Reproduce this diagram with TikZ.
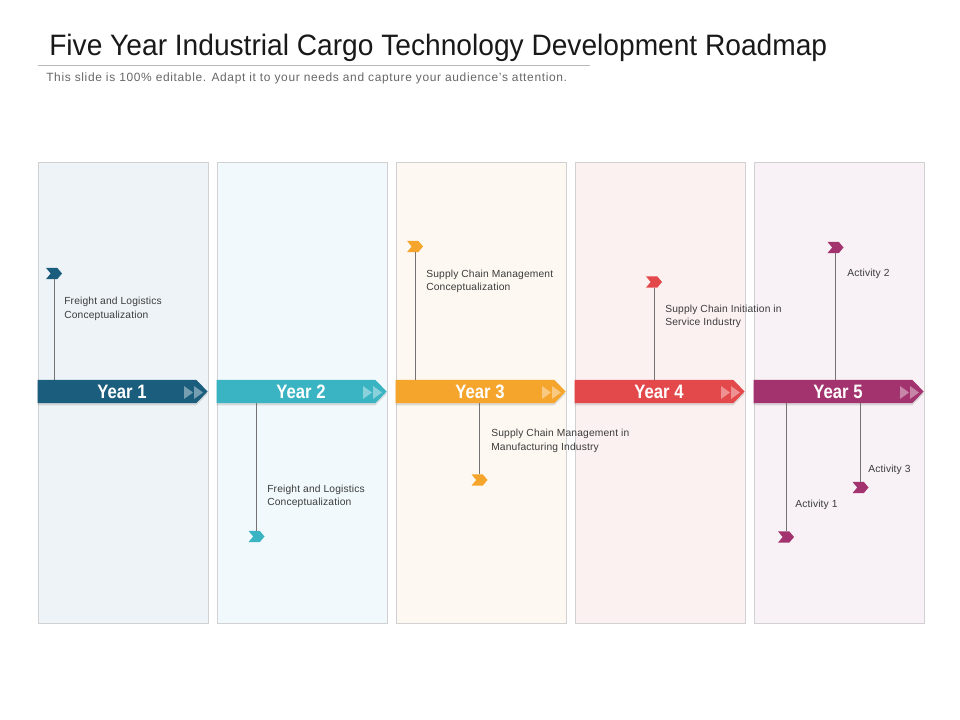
\documentclass[tikz,border=0pt]{standalone}
\usepackage{fontspec}
\setmainfont{Liberation Sans}
\usepackage{graphicx}
\usetikzlibrary{shapes.symbols,shadows}

\definecolor{cA}{HTML}{1B5D7D}
\definecolor{cB}{HTML}{3AB4C3}
\definecolor{cC}{HTML}{F5A52C}
\definecolor{cD}{HTML}{E3484A}
\definecolor{cE}{HTML}{A2336E}
\definecolor{bA}{HTML}{EEF3F7}
\definecolor{bB}{HTML}{F1F9FC}
\definecolor{bC}{HTML}{FDF8F1}
\definecolor{bD}{HTML}{FCF1F1}
\definecolor{bE}{HTML}{F8F1F6}
\definecolor{txt}{HTML}{3C3C3C}

\newcommand{\yrlabel}[1]{\hspace*{0.25cm}\scalebox{0.86}[1]{#1}}

\tikzset{
  panel/.style={draw=black!18, line width=0.5pt},
  banner/.style={signal, signal to=east, signal pointer angle=92, draw=none,
    minimum width=4.25cm, minimum height=0.575cm, inner sep=0pt, text=white,
    font=\fontsize{13.8}{16}\selectfont\bfseries,
    drop shadow={opacity=0.25, shadow xshift=0pt, shadow yshift=-1.6pt}},
  chev/.style={signal, signal from=west, signal to=east, signal pointer angle=100,
    draw=none, minimum width=0.4cm, minimum height=0.28cm, inner sep=0pt},
  stem/.style={draw=black!55, line width=0.6pt},
  note/.style={anchor=base west, align=left, inner sep=0pt, text=txt,
    font=\fontsize{7.3}{9.9}\selectfont\addfontfeature{LetterSpace=1.5}}
}

\begin{document}
\begin{tikzpicture}[x=0.025cm, y=-0.025cm]
 \useasboundingbox (0,0) rectangle (960,720);

 % heading
 \node[anchor=base west, inner sep=0pt, text=black!90, font=\fontsize{21}{24}\selectfont] (title) at (49,56) {\scalebox{0.953}[1]{Five Year Industrial Cargo Technology Development Roadmap}};
 \draw[black!28, line width=0.5pt] (38,65.5) -- (590,65.5);
 \node[anchor=base west, inner sep=0pt, text=black!60, font=\fontsize{8.5}{10}\selectfont\addfontfeature{LetterSpace=5.5}] (sub) at (46,81.5) {This slide is 100\% editable. Adapt it to your needs and capture your audience's attention.};

 % columns
 \foreach \i/\bg in {1/bA, 2/bB, 3/bC, 4/bD, 5/bE} {
        \draw[panel, fill=\bg] (\i*179-141,162) rectangle (\i*179+29,623);
 }

 % year banners
 \foreach \i/\clr in {1/cA, 2/cB, 3/cC, 4/cD, 5/cE} {
        \node[banner, fill=\clr] (y\i) at (\i*179-62,391.5) {\yrlabel{Year \i}};
        \fill[\clr!60!white] (\i*179+5,386) -- (\i*179+14,392.5) -- (\i*179+5,399) -- cycle;
        \fill[\clr!60!white] (\i*179+15,386) -- (\i*179+24,392.5) -- (\i*179+15,399) -- cycle;
 }

 % markers
 \node[chev, fill=cA] (c1) at (54,273.5) {};
 \node[chev, fill=cB] (c2) at (256.5,536.5) {};
 \node[chev, fill=cC] (c3a) at (415,246.5) {};
 \node[chev, fill=cC] (c3b) at (479.5,480) {};
 \node[chev, fill=cD] (c4) at (654,282) {};
 \node[chev, fill=cE] (c5a) at (835.5,247.5) {};
 \node[chev, fill=cE] (c5b) at (860.5,487.5) {};
 \node[chev, fill=cE] (c5c) at (786,537) {};

 % lines
 \draw[stem] (c1.south) -- (c1.south |- y1.north);
 \draw[stem] (y2.south -| c2.north) -- (c2.north);
 \draw[stem] (c3a.south) -- (c3a.south |- y3.north);
 \draw[stem] (y3.south -| c3b.north) -- (c3b.north);
 \draw[stem] (c4.south) -- (c4.south |- y4.north);
 \draw[stem] (c5a.south) -- (c5a.south |- y5.north);
 \draw[stem] (y5.south -| c5b.north) -- (c5b.north);
 \draw[stem] (y5.south -| c5c.north) -- (c5c.north);

 % texts (base = last line)
 \node[note] (t1) at (64,318.5) {Freight and Logistics\\Conceptualization};
 \node[note] (t2) at (267,506) {Freight and Logistics\\Conceptualization};
 \node[note] (t3a) at (426,291) {Supply Chain Management\\Conceptualization};
 \node[note] (t3b) at (491,450.5) {Supply Chain Management in\\Manufacturing Industry};
 \node[note] (t4) at (665,326) {Supply Chain Initiation in\\Service Industry};
 \node[note] (t5a) at (847,277) {Activity 2};
 \node[note] (t5b) at (868,473) {Activity 3};
 \node[note] (t5c) at (795,507) {Activity 1};

\end{tikzpicture}
\end{document}
